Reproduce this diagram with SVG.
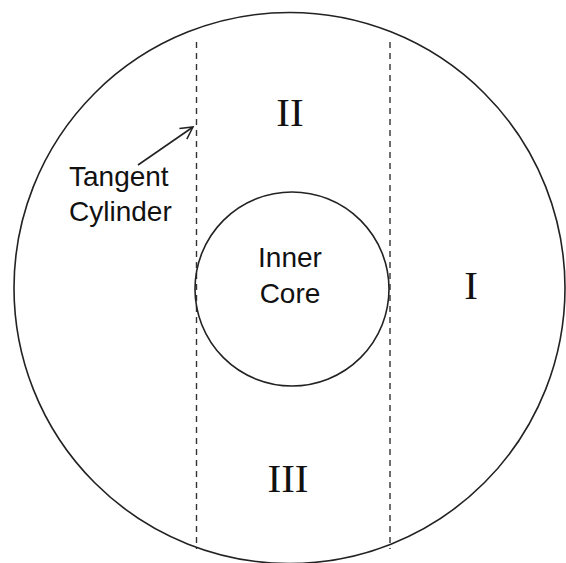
<svg xmlns="http://www.w3.org/2000/svg" width="566" height="563" viewBox="0 0 566 563">
<defs>
<style>
.ln{fill:none;stroke:#222;stroke-width:1.6}
.dash{fill:none;stroke:#333;stroke-width:1.4;stroke-dasharray:6,5}
.sans{font-family:"Liberation Sans",Arial,sans-serif;font-size:28px;fill:#111}
.serif{font-family:"Liberation Serif","Times New Roman",serif;font-size:41px;fill:#111}
</style>
<marker id="arr" markerWidth="16" markerHeight="16" refX="13" refY="8" orient="auto" markerUnits="userSpaceOnUse">
<path d="M1,1.5 L13,8 L1,14.5" fill="none" stroke="#222" stroke-width="1.5"/>
</marker>
</defs>
<rect width="566" height="563" fill="#fff"/>
<g id="outer"><circle class="ln" cx="289.5" cy="288" r="275.5"/></g>
<g id="tangent-cylinder">
<line class="dash" x1="196.5" y1="42" x2="196.5" y2="549"/>
<line class="dash" x1="390" y1="42" x2="390" y2="549"/>
</g>
<g id="inner-core">
<circle class="ln" cx="292" cy="289" r="97"/>
<text class="sans" x="290" y="267" text-anchor="middle">Inner</text>
<text class="sans" x="290" y="303" text-anchor="middle">Core</text>
</g>
<g id="region-I"><text class="serif" x="471" y="299" text-anchor="middle">I</text></g>
<g id="region-II"><text class="serif" x="290" y="126" text-anchor="middle">II</text></g>
<g id="region-III"><text class="serif" x="288" y="492" text-anchor="middle">III</text></g>
<g id="label-tangent">
<text class="sans" x="69" y="186">Tangent</text>
<text class="sans" x="69" y="221">Cylinder</text>
</g>
<g id="connectors">
<line class="ln" x1="138" y1="165" x2="193" y2="127" marker-end="url(#arr)"/>
</g>
</svg>
